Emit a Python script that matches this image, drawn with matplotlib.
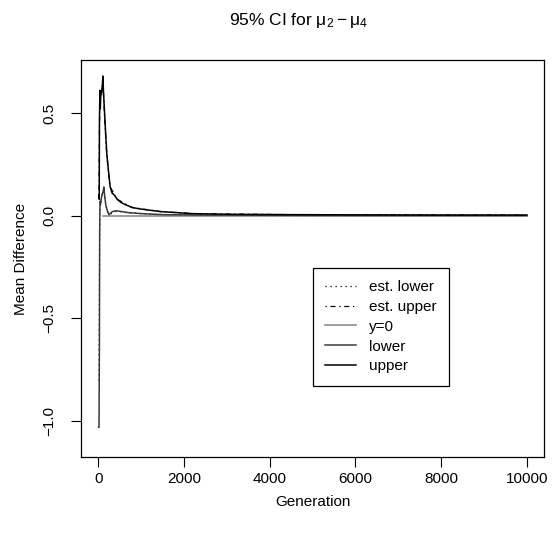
import matplotlib
matplotlib.use("Agg")
import matplotlib.pyplot as plt

plt.rcParams['font.family'] = ['Liberation Sans', 'DejaVu Sans']
plt.rcParams['mathtext.fontset'] = 'custom'
plt.rcParams['mathtext.rm'] = 'Liberation Sans'
plt.rcParams['mathtext.it'] = 'Liberation Sans'

# running 95% CI bounds
gen_upper = [15, 25, 30, 40, 50, 60, 80, 100, 110, 125, 150, 175, 203, 230, 250, 280,
             326, 380, 443, 530, 630, 790, 1000, 1450, 2200, 3000, 4500, 6000, 8000, 10000]
upper = [0.10, 0.08, 0.45, 0.61, 0.52, 0.58, 0.60, 0.64, 0.68, 0.60, 0.50, 0.40, 0.30, 0.24,
         0.20, 0.14, 0.11, 0.10, 0.08, 0.065, 0.054, 0.04, 0.032, 0.02, 0.01, 0.007, 0.005,
         0.004, 0.003, 0.003]

gen_lower = [10, 20, 30, 35, 40, 45, 60, 80, 100, 120, 133, 150, 180, 220, 250, 280, 330,
             430, 550, 700, 1000, 1500, 2500, 4000, 6000, 8000, 10000]
lower = [-1.03, -1.03, -0.60, -0.10, 0.03, 0.07, 0.06, 0.09, 0.11, 0.12, 0.14, 0.10, 0.05,
         0.02, 0.005, 0.01, 0.02, 0.024, 0.02, 0.015, 0.01, 0.005, 0.003, 0.002, 0.001,
         0.001, 0.001]

gen_est_lower = [10, 20, 30, 40, 60, 100, 133, 180, 250, 430, 700, 1500, 4000, 10000]
est_lower = [-0.80, -0.80, -0.30, 0.02, 0.06, 0.11, 0.13, 0.05, 0.005, 0.022, 0.014,
             0.005, 0.002, 0.001]

gen_est_upper = [20, 30, 40, 80, 110, 150, 203, 280, 443, 790, 1450, 2200, 4500, 10000]
est_upper = [0.10, 0.40, 0.60, 0.60, 0.66, 0.48, 0.29, 0.14, 0.08, 0.04, 0.02, 0.01,
             0.005, 0.003]

gen_zero = [120, 10000]
zero = [0, 0]

x_ticks = [0, 2000, 4000, 6000, 8000, 10000]
y_ticks = [-1.0, -0.5, 0.0, 0.5]
y_tick_labels = ['\u22121.0', '\u22120.5', '0.0', '0.5']

W, H = 552, 538
fig = plt.figure(figsize=(W / 100, H / 100), dpi=100)
ax = fig.add_axes([81 / W, 1 - 457 / H, (544 - 81) / W, (457 - 60) / H])

ax.plot(gen_est_lower, est_lower, color='black', lw=0.9, ls=(0, (1, 3)), label='est. lower')
ax.plot(gen_est_upper, est_upper, color='black', lw=0.9, ls=(0, (1, 3, 4, 3)), label='est. upper')
ax.plot(gen_zero, zero, color='#8c8c8c', lw=1.2, label='y=0')
ax.plot(gen_lower, lower, color='#3a3a3a', lw=1.1, label='lower')
ax.plot(gen_upper, upper, color='black', lw=1.1, label='upper')

ax.set_xlim(-400, 10400)
ax.set_ylim(-1.175, 0.758)
ax.set_xticks(x_ticks)
ax.set_xticklabels([str(t) for t in x_ticks])
ax.set_yticks(y_ticks)
ax.set_yticklabels(y_tick_labels, rotation=90, va='center')
ax.tick_params(direction='out', length=7, width=0.8, labelsize=11)
ax.tick_params(axis='x', pad=4)
ax.tick_params(axis='y', pad=11)
for s in ax.spines.values():
    s.set_linewidth(0.9)

ax.set_xlabel('Generation', fontsize=11, labelpad=6)
ax.set_ylabel('Mean Difference', fontsize=11, labelpad=10)

fig.text(298 / W, 1 - 20 / H, r'95% CI for $\mathrm{\mu_2 - \mu_4}$', ha='center', va='center', fontsize=12.5)

leg = ax.legend(loc='upper left', bbox_to_anchor=(313 / W, 1 - 268 / H),
                bbox_transform=fig.transFigure, borderaxespad=0, fontsize=11,
                handlelength=2.0, handletextpad=0.85, borderpad=0.8, labelspacing=0.38,
                fancybox=False, framealpha=1, edgecolor='black')
leg.get_frame().set_linewidth(0.9)

fig.savefig('out.png', dpi=100)
